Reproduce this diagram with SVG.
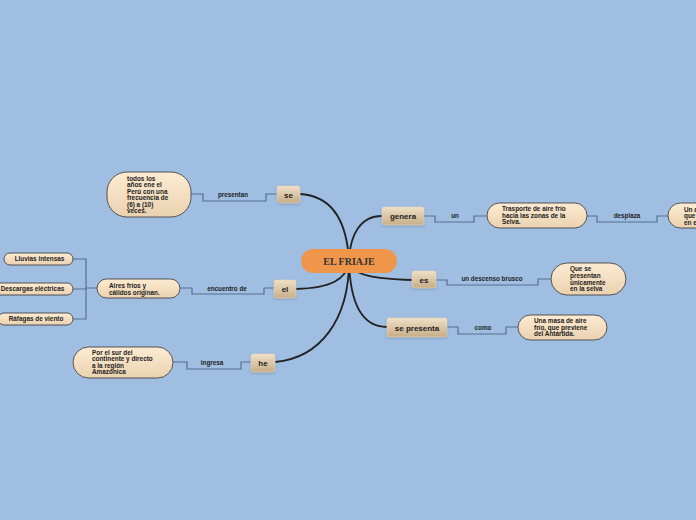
<svg xmlns="http://www.w3.org/2000/svg" width="696" height="520" viewBox="0 0 696 520">
<defs>
<linearGradient id="tan" x1="0" y1="0" x2="0" y2="1">
<stop offset="0" stop-color="#efe0c6"/>
<stop offset="1" stop-color="#c7ad88"/>
</linearGradient>
<linearGradient id="cream" x1="0" y1="0" x2="0" y2="1">
<stop offset="0" stop-color="#fdebd2"/>
<stop offset="1" stop-color="#ead2b0"/>
</linearGradient>
<filter id="sh" x="-20%" y="-20%" width="140%" height="160%">
<feDropShadow dx="0" dy="1" stdDeviation="0.8" flood-color="#5a6f88" flood-opacity="0.5"/>
</filter>
</defs>
<style>
.main{fill:none;stroke:#222;stroke-width:1.8;stroke-linecap:round}
.conn{fill:none;stroke:#55708f;stroke-width:1.2}
.sub{fill:url(#tan);stroke:#e6d6bc;stroke-width:0.6;filter:url(#sh)}
.leaf{fill:url(#cream);stroke:#444;stroke-width:0.9}
.st{font-family:"Liberation Sans",Arial,sans-serif;font-weight:bold;font-size:8px;fill:#222;text-anchor:middle}
.lt{font-family:"Liberation Sans",Arial,sans-serif;font-weight:bold;font-size:6.4px;fill:#222}
.cl{font-family:"Liberation Sans",Arial,sans-serif;font-weight:bold;font-size:6.3px;fill:#222;text-anchor:middle}
</style>
<rect x="0" y="0" width="696" height="520" fill="#a0bee2"/>

<g id="connectors">
<path class="main" d="M300,194 C335,196 347,225 349,261"/>
<path class="main" d="M382,216 C360,216 350,235 349,261"/>
<path class="main" d="M296,289 C330,288 347,280 349,261"/>
<path class="main" d="M412,280 C375,279 350,275 349,261"/>
<path class="main" d="M387,327 C360,327 350,300 349,261"/>
<path class="main" d="M275,362 C320,358 349,320 349,261"/>

<path class="conn" d="M277,194 H266 V201 H203 V194 H191"/>
<text class="cl" x="233" y="197">presentan</text>
<path class="conn" d="M274,288 H264 V294 H192 V288 H180"/>
<text class="cl" x="227" y="291">encuentro de</text>
<path class="conn" d="M251,362 H241 V369 H187 V362 H173"/>
<text class="cl" x="212" y="365">ingresa</text>
<path class="conn" d="M424,216 H435 V222 H474 V216 H487"/>
<text class="cl" x="455" y="218">un</text>
<path class="conn" d="M587,216 H597 V222 H657 V216 H668"/>
<text class="cl" x="627" y="218">desplaza</text>
<path class="conn" d="M436,280 H447 V285 H538 V279 H551"/>
<text class="cl" x="492" y="281">un descenso brusco</text>
<path class="conn" d="M447,327 H458 V334 H506 V327 H518"/>
<text class="cl" x="483" y="330">como</text>
<path class="conn" d="M97,288 H86 M73,259 H86 V319 H73 M73,289 H86"/>
</g>

<g id="center">
<rect x="301" y="249" width="96" height="24" rx="12" fill="#f0964a"/>
<text x="349" y="264.5" font-family="Liberation Serif,Times New Roman,serif" font-weight="bold" font-size="10" fill="#333" text-anchor="middle">EL FRIAJE</text>
</g>

<g id="n-se"><rect class="sub" x="277" y="186" width="23" height="17" rx="2"/><text class="st" x="288.5" y="197.5">se</text></g>
<g id="n-el"><rect class="sub" x="274" y="280" width="22" height="18" rx="2"/><text class="st" x="285" y="292">el</text></g>
<g id="n-he"><rect class="sub" x="251" y="354" width="24" height="18" rx="2"/><text class="st" x="263" y="366">he</text></g>
<g id="n-genera"><rect class="sub" x="382" y="207" width="42" height="18" rx="2"/><text class="st" x="403" y="219">genera</text></g>
<g id="n-es"><rect class="sub" x="412" y="271" width="24" height="17" rx="2"/><text class="st" x="424" y="282.5">es</text></g>
<g id="n-sepresenta"><rect class="sub" x="387" y="318" width="60" height="19" rx="2"/><text class="st" x="417" y="330.5">se presenta</text></g>

<g id="l-todos">
<rect class="leaf" x="107" y="172" width="84" height="45" rx="20"/>
<text class="lt" x="127" y="180.5">todos los</text>
<text class="lt" x="127" y="187">años ene el</text>
<text class="lt" x="127" y="193.5">Perú con una</text>
<text class="lt" x="127" y="200">frecuencia de</text>
<text class="lt" x="127" y="206.5">(6) a (10)</text>
<text class="lt" x="127" y="213">veces.</text>
</g>
<g id="l-aires">
<rect class="leaf" x="97" y="279" width="83" height="19" rx="9.5"/>
<text class="lt" x="109" y="288">Aires fríos y</text>
<text class="lt" x="109" y="294.5">cálidos originan.</text>
</g>
<g id="l-lluvias">
<rect class="leaf" x="4" y="253" width="69" height="12" rx="6"/>
<text class="lt" x="39.5" y="261.3" text-anchor="middle">Lluvias intensas</text>
</g>
<g id="l-descargas">
<rect class="leaf" x="-6" y="283" width="79" height="12" rx="6"/>
<text class="lt" x="32.5" y="290.5" text-anchor="middle">Descargas eléctricas</text>
</g>
<g id="l-rafagas">
<rect class="leaf" x="-2" y="313" width="75" height="12" rx="6"/>
<text class="lt" x="36" y="321" text-anchor="middle">Ráfagas de viento</text>
</g>
<g id="l-porelsur">
<rect class="leaf" x="73" y="347" width="100" height="31" rx="15.5"/>
<text class="lt" x="92" y="354.5">Por el sur del</text>
<text class="lt" x="92" y="361">continente y directo</text>
<text class="lt" x="92" y="367.5">a la región</text>
<text class="lt" x="92" y="374">Amazónica</text>
</g>
<g id="l-trasporte">
<rect class="leaf" x="487" y="203" width="100" height="25" rx="12.5"/>
<text class="lt" x="502" y="211">Trasporte de aire frío</text>
<text class="lt" x="502" y="217.7">hacia las zonas de la</text>
<text class="lt" x="502" y="224.3">Selva.</text>
</g>
<g id="l-una">
<rect class="leaf" x="668" y="203" width="90" height="25" rx="12.5"/>
<text class="lt" x="684" y="211.5">Un a</text>
<text class="lt" x="684" y="218">que</text>
<text class="lt" x="684" y="224.5">en e</text>
</g>
<g id="l-queses">
<rect class="leaf" x="551" y="263" width="75" height="32" rx="16"/>
<text class="lt" x="570" y="271.3">Que se</text>
<text class="lt" x="570" y="278">presentan</text>
<text class="lt" x="570" y="284.7">únicamente</text>
<text class="lt" x="570" y="291.3">en la selva</text>
</g>
<g id="l-masa">
<rect class="leaf" x="518" y="315" width="89" height="25" rx="12.5"/>
<text class="lt" x="534" y="323">Una masa de aire</text>
<text class="lt" x="534" y="329.7">frío, que previene</text>
<text class="lt" x="534" y="336.4">del Antártida.</text>
</g>
</svg>
